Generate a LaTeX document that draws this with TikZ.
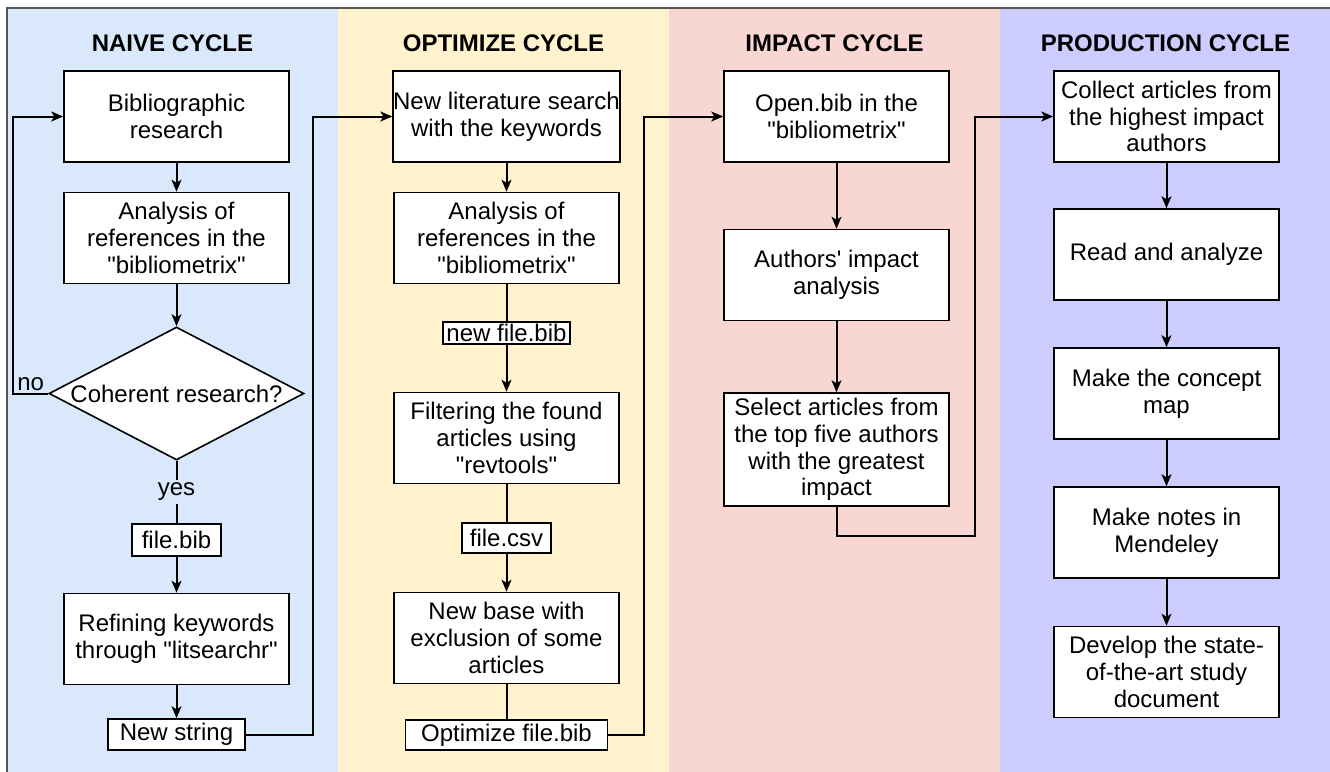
\documentclass[tikz,border=0pt]{standalone}
\usepackage{tikz}
\usepackage{xcolor}
\usepackage{fontspec}
\usetikzlibrary{shapes.geometric,arrows.meta}
\newfontfamily\diagfont{Liberation Sans}
\definecolor{naiveblue}{HTML}{DAE8FC}
\definecolor{optimyellow}{HTML}{FFF2CC}
\definecolor{impactpink}{HTML}{F8D6D2}
\definecolor{prodpurple}{HTML}{CCCCFF}
\definecolor{framegray}{HTML}{555555}

\begin{document}
\begin{tikzpicture}[x=0.5pt,y=-0.5pt,
  font=\diagfont\fontsize{12}{13.3}\selectfont,
  box/.style={draw,fill=white,line width=0.8pt,inner sep=0pt,align=center,minimum width=112.5pt,minimum height=45.5pt},
  filebox/.style={draw,fill=white,line width=0.8pt,inner sep=0pt,minimum height=15.5pt},
  title/.style={font=\diagfont\bfseries\fontsize{12}{14}\selectfont},
  flow/.style={line width=1pt},
  arr/.style={line width=1pt,-{Stealth[length=6pt,width=5pt,inset=1.6pt]}}]
			\useasboundingbox (0,0) rectangle (1330,772);
			\fill[naiveblue] (7,8) rectangle (338,790);
			\fill[optimyellow] (338,8) rectangle (669,790);
			\fill[impactpink] (669,8) rectangle (1000,790);
			\fill[prodpurple] (1000,8) rectangle (1340,790);
			\draw[framegray,line width=1pt] (7,790) -- (7,8) -- (1340,8);
			
			\node (tn)[title] at (172.5,43) {NAIVE CYCLE};
			\node (to)[title] at (503.5,43) {OPTIMIZE CYCLE};
			\node (ti)[title] at (834.5,43) {IMPACT CYCLE};
			\node (tp)[title] at (1165.5,43) {PRODUCTION CYCLE};
			
			\node (n1)[box] at (176.5,116.5) {Bibliographic\\research};
			\node (n2)[box] at (176.5,238) {Analysis of\\references in the\\"bibliometrix"};
			\node (d)[draw,fill=white,line width=0.8pt,diamond,aspect=1.92,inner sep=0pt,minimum width=127.5pt,minimum height=66.5pt] at (176.5,393.5) {Coherent research?};
			\node (fb)[filebox,minimum width=44.5pt,minimum height=16pt] at (176.5,540) {file.bib};
			\node (n3)[box] at (176.5,639) {Refining keywords\\through "litsearchr"};
			\node (ns)[filebox,minimum width=68.5pt] at (176.5,734.5) {New string};
			
			\node (y1)[box] at (506.5,116.5) {New literature search\\with the keywords};
			\node (y2)[box] at (506.5,238) {Analysis of\\references in the\\"bibliometrix"};
			\node (nfb)[filebox,minimum width=63.5pt,minimum height=11pt] at (506.5,333) {new file.bib};
			\node (y3)[box] at (506.5,438) {Filtering the found\\articles using\\"revtools"};
			\node (csv)[filebox,minimum width=44.5pt,minimum height=15pt] at (506.5,538) {file.csv};
			\node (y4)[box] at (506.5,638) {New base with\\exclusion of some\\articles};
			\node (ofb)[filebox,minimum width=101pt,minimum height=15pt] at (506.5,735) {Optimize file.bib};
			
			\node (p1)[box] at (836.5,116.5) {Open.bib in the\\"bibliometrix"};
			\node (p2)[box] at (836.5,275) {Authors' impact\\analysis};
			\node (p3)[box,minimum height=56.5pt] at (836.5,449.5) {Select articles from\\the top five authors\\with the greatest\\impact};
			
			\node (c1)[box] at (1166.5,116.5) {Collect articles from\\the highest impact\\authors};
			\node (c2)[box] at (1166.5,254.5) {Read and analyze};
			\node (c3)[box] at (1166.5,393.5) {Make the concept\\map};
			\node (c4)[box] at (1166.5,532.5) {Make notes in\\Mendeley};
			\node (c5)[box] at (1166.5,672) {Develop the state-\\of-the-art study\\document};
			
			\coordinate (k1) at (313,734.5);
			\coordinate (k2) at (644,735);
			\coordinate (k3) at (975,536);
			
			\draw[arr] (n1) -- (n2);
			\draw[arr] (n2) -- (d);
			\draw[arr] (d.west) -- ++(-35,0) node [pos=0.5,above,inner sep=1pt]{no} |- (n1.west);
			\draw[flow] (d.south) -- (fb.north) node [pos=0.5,fill=naiveblue,inner sep=1.5pt]{yes};
			\draw[arr] (fb) -- (n3);
			\draw[arr] (n3) -- (ns);
			\draw[arr] (ns.east) -- (k1) |- (y1.west);
			
			\draw[arr] (y1) -- (y2);
			\draw[flow] (y2) -- (nfb);
			\draw[arr] (nfb) -- (y3);
			\draw[flow] (y3) -- (csv);
			\draw[arr] (csv) -- (y4);
			\draw[flow] (y4) -- (ofb);
			\draw[arr] (ofb.east) -- (k2) |- (p1.west);
			
			\draw[arr] (p1) -- (p2);
			\draw[arr] (p2) -- (p3);
			\draw[arr] (p3.south) |- (k3) |- (c1.west);
			
			\draw[arr] (c1) -- (c2);
			\draw[arr] (c2) -- (c3);
			\draw[arr] (c3) -- (c4);
			\draw[arr] (c4) -- (c5);
		\end{tikzpicture}
\end{document}
